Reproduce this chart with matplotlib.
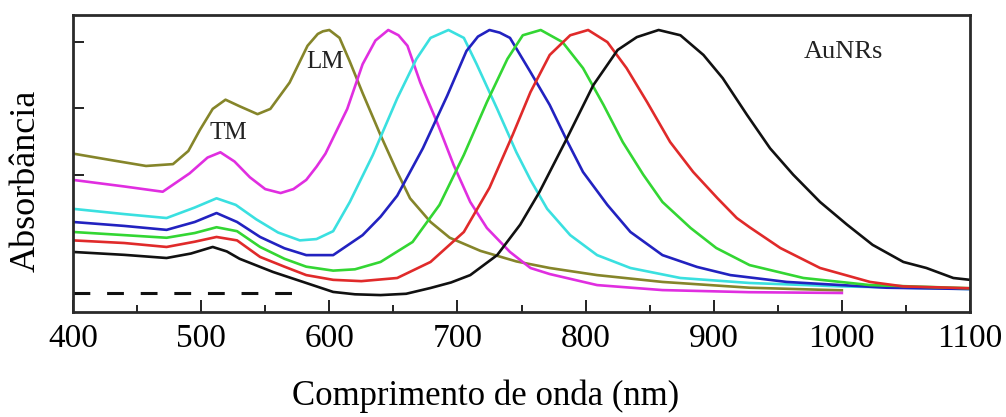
import matplotlib
matplotlib.use("Agg")
import matplotlib.pyplot as plt
from matplotlib.ticker import MultipleLocator

plt.rcParams['font.family'] = ['Liberation Serif', 'DejaVu Serif']

# absorbance spectra (arbitrary units, LSPR peak = 1)
olive_wl = [400, 430, 457, 478, 490, 499, 509, 519, 530, 544, 554, 569, 583, 591, 595, 600, 608,
            616, 626, 640, 653, 663, 679, 694, 718, 746, 772, 809, 860, 928, 1000]
olive_a = [0.53, 0.505, 0.483, 0.49, 0.54, 0.62, 0.70, 0.735, 0.71, 0.68, 0.70, 0.80, 0.94, 0.985,
           0.995, 1.0, 0.97, 0.88, 0.76, 0.60, 0.46, 0.36, 0.27, 0.21, 0.16, 0.12, 0.095, 0.068,
           0.042, 0.02, 0.01]

magenta_wl = [400, 440, 470, 491, 505, 515, 526, 538, 550, 562, 572, 582, 590, 597, 605, 614, 620,
              626, 636, 646, 654, 661, 671, 684, 697, 710, 723, 741, 757, 772, 809, 860, 928, 1000]
magenta_a = [0.43, 0.405, 0.385, 0.455, 0.515, 0.535, 0.50, 0.44, 0.395, 0.38, 0.395, 0.43, 0.48,
             0.53, 0.61, 0.70, 0.785, 0.87, 0.96, 1.0, 0.98, 0.94, 0.80, 0.65, 0.487, 0.346, 0.247,
             0.156, 0.095, 0.072, 0.03, 0.011, 0.003, 0.0]

cyan_wl = [400, 440, 473, 495, 512, 527, 543, 560, 577, 590, 603, 616, 634, 653, 668, 679, 693,
           705, 715, 731, 746, 757, 770, 788, 809, 835, 874, 928, 1000, 1100]
cyan_a = [0.32, 0.30, 0.285, 0.325, 0.36, 0.335, 0.28, 0.23, 0.20, 0.205, 0.235, 0.346, 0.525,
          0.74, 0.89, 0.97, 1.0, 0.97, 0.87, 0.70, 0.535, 0.43, 0.32, 0.22, 0.144, 0.095, 0.057,
          0.038, 0.025, 0.015]

blue_wl = [400, 440, 473, 495, 512, 528, 546, 565, 582, 603, 626, 640, 653, 673, 692, 707, 716,
           725, 733, 741, 757, 772, 786, 798, 817, 835, 860, 887, 913, 957, 1035, 1100]
blue_a = [0.27, 0.255, 0.24, 0.27, 0.304, 0.27, 0.213, 0.17, 0.144, 0.144, 0.22, 0.29, 0.37, 0.55,
          0.75, 0.92, 0.975, 1.0, 0.99, 0.97, 0.84, 0.715, 0.574, 0.46, 0.335, 0.232, 0.144, 0.099,
          0.068, 0.042, 0.02, 0.015]

green_wl = [400, 440, 473, 495, 512, 528, 546, 565, 582, 603, 620, 640, 665, 686, 705, 723, 739,
            751, 765, 782, 798, 814, 829, 845, 860, 882, 902, 928, 970, 1022, 1100]
green_a = [0.232, 0.22, 0.21, 0.228, 0.25, 0.235, 0.175, 0.13, 0.10, 0.085, 0.09, 0.118, 0.194,
           0.335, 0.525, 0.726, 0.89, 0.98, 1.0, 0.954, 0.855, 0.715, 0.574, 0.45, 0.346, 0.247,
           0.171, 0.106, 0.057, 0.03, 0.018]

red_wl = [400, 440, 473, 495, 512, 528, 546, 565, 582, 603, 625, 653, 679, 705, 725, 743, 757, 772,
          788, 802, 817, 832, 848, 866, 884, 903, 918, 928, 952, 983, 1022, 1048, 1100]
red_a = [0.20, 0.19, 0.175, 0.195, 0.213, 0.20, 0.137, 0.10, 0.068, 0.05, 0.045, 0.057, 0.118,
         0.232, 0.40, 0.60, 0.764, 0.905, 0.98, 1.0, 0.954, 0.855, 0.726, 0.574, 0.46, 0.36, 0.285,
         0.25, 0.171, 0.095, 0.042, 0.025, 0.018]

black_wl = [400, 440, 473, 492, 509, 520, 530, 556, 582, 603, 620, 640, 660, 679, 695, 710, 731,
            749, 764, 784, 806, 825, 840, 857, 874, 892, 907, 926, 944, 962, 983, 1004, 1024,
            1048, 1066, 1087, 1100]
black_a = [0.156, 0.145, 0.133, 0.15, 0.175, 0.158, 0.13, 0.08, 0.038, 0.004, -0.005, -0.008,
           -0.003, 0.019, 0.04, 0.068, 0.144, 0.26, 0.384, 0.574, 0.79, 0.924, 0.973, 1.0, 0.98,
           0.905, 0.817, 0.677, 0.55, 0.45, 0.346, 0.26, 0.183, 0.118, 0.095, 0.057, 0.05]

spectra = [
    (olive_wl, olive_a, '#85852a'),
    (magenta_wl, magenta_a, '#e02ee0'),
    (cyan_wl, cyan_a, '#3ae0e0'),
    (blue_wl, blue_a, '#2222c0'),
    (green_wl, green_a, '#33d633'),
    (red_wl, red_a, '#e02a2a'),
    (black_wl, black_a, '#111111'),
]

baseline_wl = [400, 580]
baseline_a = [0.0, 0.0]

fig = plt.figure(figsize=(10.06, 4.17), dpi=100)
ax = fig.add_axes([0.0726, 0.252, 0.8916, 0.712])

for wl, a, c in spectra:
    ax.plot(wl, a, color=c, lw=1.9, solid_joinstyle='round')

ax.plot(baseline_wl, baseline_a, color='#111111', lw=2.2, dashes=(5.5, 5.5))

ax.text(521, 0.61, 'TM', fontsize=18, ha='center', va='center', color='#222222')
ax.text(597, 0.88, 'LM', fontsize=18, ha='center', va='center', color='#222222')
ax.text(1001, 0.915, 'AuNRs', fontsize=19, ha='center', va='center', color='#222222')

ax.set_xlim(400, 1100)
ax.set_ylim(-0.072, 1.057)
ax.xaxis.set_major_locator(MultipleLocator(100))
ax.xaxis.set_minor_locator(MultipleLocator(50))
ax.set_yticks([0.449, 0.703, 0.954])
ax.set_yticklabels([])
ax.tick_params(axis='both', which='major', direction='in', length=9, width=1.4,
               color='#222222', labelsize=24, pad=8)
ax.tick_params(axis='x', which='minor', direction='in', length=5, width=1.4, color='#222222')
ax.tick_params(axis='y', which='major', length=8)

for s in ax.spines.values():
    s.set_linewidth(2)
    s.set_color('#2a2a2a')

ax.set_xlabel('Comprimento de onda (nm)', fontsize=25)
ax.xaxis.set_label_coords(0.46, -0.228)
ax.set_ylabel('Absorbância', fontsize=26)
ax.yaxis.set_label_coords(-0.034, 0.44)

plt.savefig('out.png', dpi=100)
